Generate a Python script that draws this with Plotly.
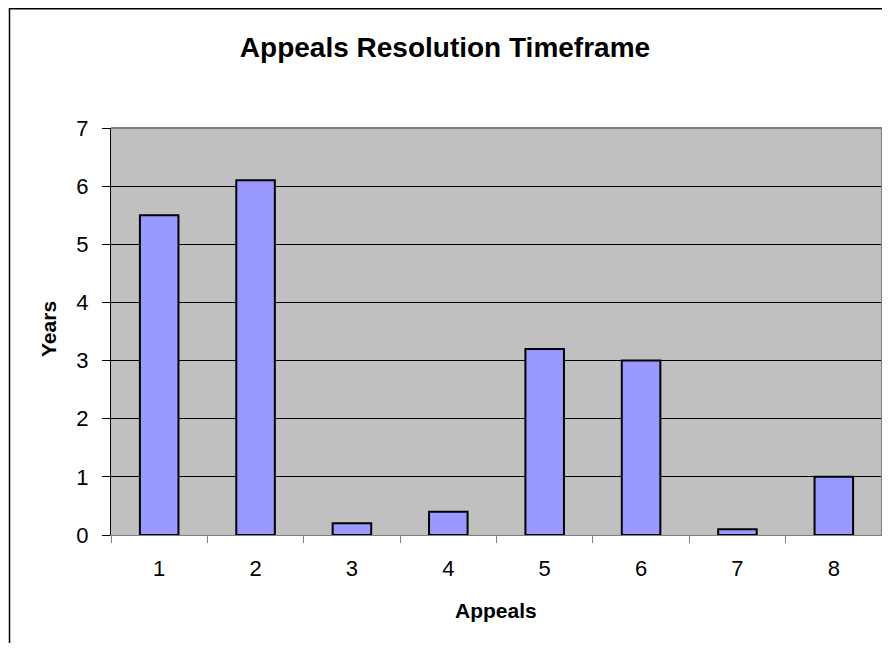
import plotly.graph_objects as go

categories = ["1", "2", "3", "4", "5", "6", "7", "8"]
years = [5.5, 6.1, 0.2, 0.4, 3.2, 3.0, 0.1, 1.0]
y_ticks = [0, 1, 2, 3, 4, 5, 6, 7]

# page body has an 8px margin, so the figure is placed at (8, 8) on screen
W, H = 876, 635
L, R, T, B = 103, 2, 120, 108
pw = W - L - R
ph = H - T - B

FONT = "Arial, Liberation Sans, sans-serif"

fig = go.Figure()
fig.add_trace(go.Bar(
    x=categories, y=years,
    marker=dict(color="#9999FF", line=dict(color="black", width=2)),
))

fig.update_layout(
    width=W, height=H,
    margin=dict(l=L, r=R, t=T, b=B, pad=0),
    paper_bgcolor="white",
    plot_bgcolor="#C0C0C0",
    showlegend=False,
    title=dict(text="<b>Appeals Resolution Timeframe</b>", x=437 / W, xref="container",
               xanchor="center", y=1 - 39.5 / H, yref="container", yanchor="middle",
               font=dict(family=FONT, size=28, color="black")),
    font=dict(family=FONT, size=22, color="black"),
    bargap=0.6,
)

fig.update_xaxes(
    type="category",
    tickson="boundaries",
    ticks="outside", ticklen=7, tickcolor="#808080", tickwidth=1,
    showline=True, linecolor="#808080", linewidth=1,
    showgrid=False,
    ticklabelstandoff=14,
    tickfont=dict(family=FONT, size=22),
)
fig.update_yaxes(
    range=[0, 7],
    tickvals=y_ticks,
    ticks="outside", ticklen=8, tickcolor="black", tickwidth=1,
    showline=True, linecolor="black", linewidth=1,
    showgrid=True, gridcolor="black", gridwidth=1,
    zeroline=False,
    ticklabelstandoff=9,
    tickfont=dict(family=FONT, size=22),
)

fig.add_annotation(text="<b>Years</b>", xref="paper", yref="paper",
                   x=(40 - L) / pw, y=1 - (321 - T) / ph, textangle=-90,
                   xanchor="center", yanchor="middle", showarrow=False,
                   font=dict(family=FONT, size=21, color="black"))
fig.add_annotation(text="<b>Appeals</b>", xref="paper", yref="paper",
                   x=(487.5 - L) / pw, y=-(602 - (T + ph)) / ph,
                   xanchor="center", yanchor="middle", showarrow=False,
                   font=dict(family=FONT, size=21, color="black"))

# plot area border (top/right gray)
fig.add_shape(type="line", xref="paper", yref="paper", x0=0, x1=1, y0=1, y1=1,
              line=dict(color="#808080", width=2))
fig.add_shape(type="line", xref="paper", yref="paper", x0=1, x1=1, y0=0, y1=1,
              line=dict(color="#808080", width=2))
# outer chart border
fig.add_shape(type="rect", xref="paper", yref="paper",
              x0=(1.5 - L) / pw, x1=(W + 10 - L) / pw,
              y0=-(B + 10) / ph, y1=1 + (T - 0.75) / ph,
              line=dict(color="black", width=1.5), fillcolor="rgba(0,0,0,0)")

fig.write_html("out.html")
